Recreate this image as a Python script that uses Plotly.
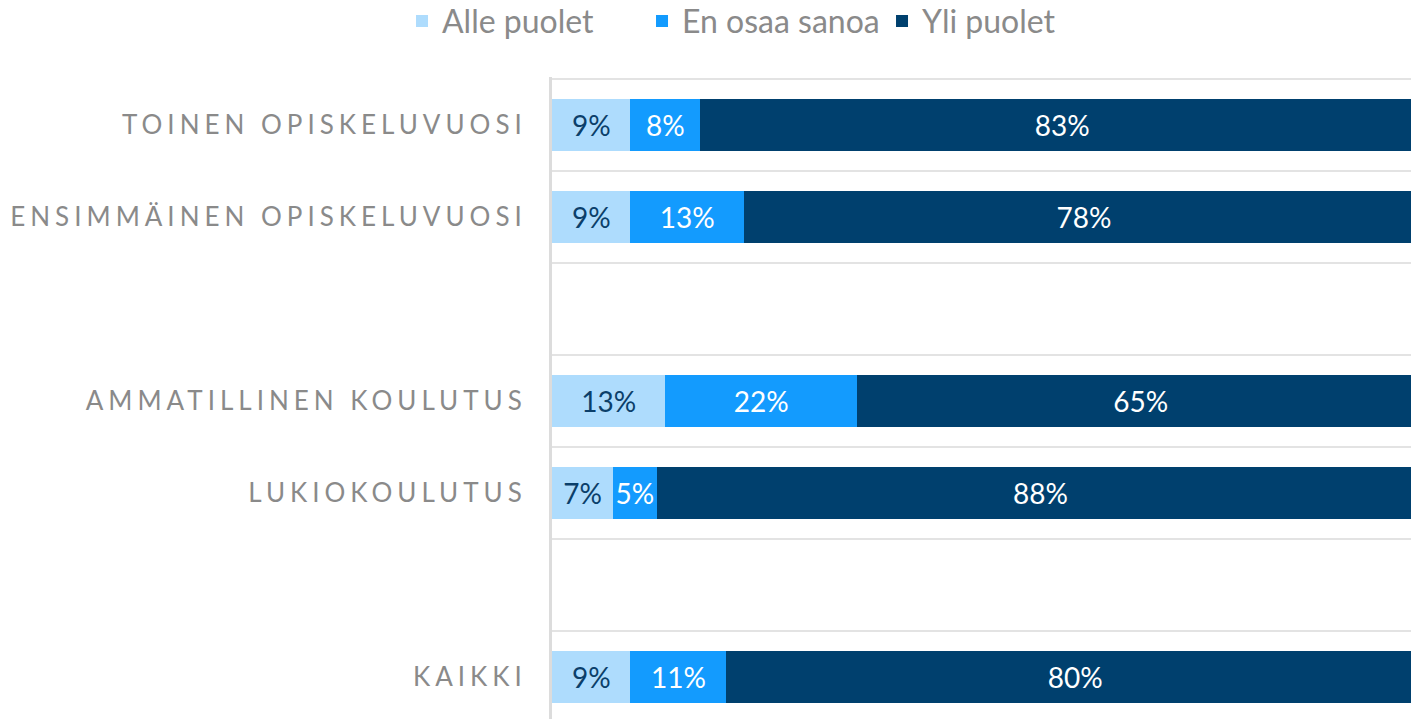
import plotly.graph_objects as go

categories = ["TOINEN OPISKELUVUOSI", "ENSIMMÄINEN OPISKELUVUOSI",
              "AMMATILLINEN KOULUTUS", "LUKIOKOULUTUS", "KAIKKI"]
axis_order = ["KAIKKI", "  ", "LUKIOKOULUTUS", "AMMATILLINEN KOULUTUS", " ",
              "ENSIMMÄINEN OPISKELUVUOSI", "TOINEN OPISKELUVUOSI"]
series_names = ["Alle puolet", "En osaa sanoa", "Yli puolet"]
alle_puolet = [9, 9, 13, 7, 9]
en_osaa_sanoa = [8, 13, 22, 5, 11]
yli_puolet = [83, 78, 65, 88, 80]

colors = ["#AEDCFD", "#139BFE", "#00406E"]
text_colors = ["#0B3F6A", "#FFFFFF", "#FFFFFF"]

fig = go.Figure()
for name, vals, col, tcol in zip(series_names, [alle_puolet, en_osaa_sanoa, yli_puolet], colors, text_colors):
    fig.add_trace(go.Bar(
        y=categories, x=vals, name=name, orientation="h",
        marker=dict(color=col, line=dict(width=0)),
        text=[f"{v}%" for v in vals], texttemplate="%{text}",
        textposition="inside", insidetextanchor="middle", textangle=0,
        textfont=dict(family="Lato", size=28, color=tcol),
        hoverinfo="skip",
    ))

fig.update_layout(
    barmode="stack", bargap=0.435,
    width=1411, height=719,
    margin=dict(l=552, r=0, t=77, b=0, autoexpand=False),
    paper_bgcolor="white", plot_bgcolor="white",
    uniformtext=dict(minsize=28, mode="show"),
    legend=dict(orientation="h", x=-0.1746, xanchor="left", y=1.087, yanchor="middle",
                font=dict(family="Lato", size=32, color="#8A8A8A"),
                itemwidth=30, entrywidth=195, traceorder="normal"),
    showlegend=True,
)
fig.update_xaxes(range=[0, 98.5], showgrid=False, zeroline=False, showticklabels=False,
                 showline=False, fixedrange=True)
fig.update_yaxes(type="category", categoryorder="array", categoryarray=axis_order,
                 range=[-0.457, 6.522], tickson="boundaries", showgrid=True,
                 gridcolor="#E3E3E3", gridwidth=2, showline=True, linecolor="#DCDCDC",
                 linewidth=3, ticks="", ticklabelstandoff=17,
                 tickfont=dict(family="Lato", size=26, color="#8A8A8A"))

post = ("var s=document.createElement('style');"
        "s.innerHTML='html,body{margin:0;padding:0;overflow:hidden} .ytick text{letter-spacing:5px !important}';"
        "document.head.appendChild(s);")
fig.write_html("out.html", post_script=post, config={"displayModeBar": False})
